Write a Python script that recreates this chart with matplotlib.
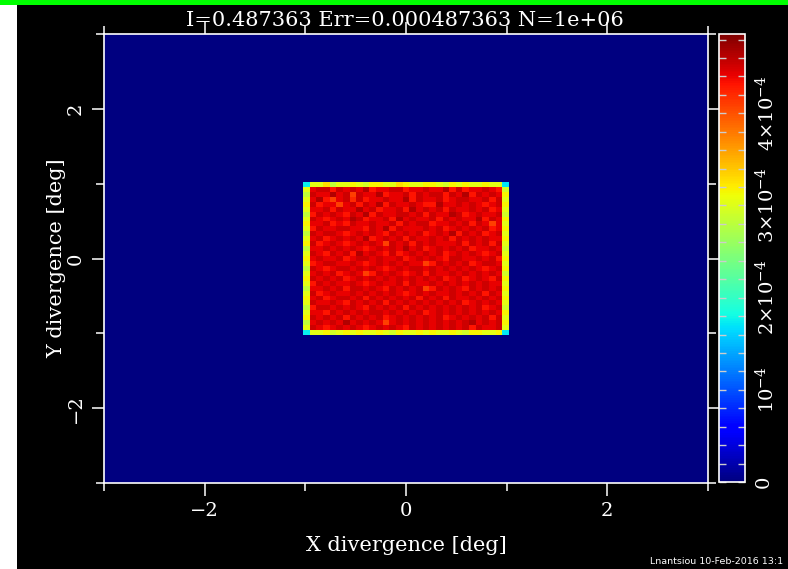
import numpy as np
import matplotlib
matplotlib.use("Agg")
import matplotlib.pyplot as plt
from matplotlib.patches import Rectangle
from matplotlib.ticker import MultipleLocator, FixedLocator

# histogram grid: 91 x 91 bins over [-3, 3] deg
n_bins = 91
x_range = (-3.0, 3.0)
y_range = (-3.0, 3.0)
first_bin = 30  # first (partial) bin of the lit rectangle
z_max = 4.86e-4

# interior cells (29 x 29), top row first, one digit per cell
interior_rows = [
    "6775767685" "6677566766" "857566765",
    "7668673766" "8566757677" "576857676",
    "6853674756" "6766857667" "567766757",
    "7566367576" "8576676558" "667676567",
    "6675766867" "5667586767" "576676756",
    "5767657685" "7667767576" "687567667",
    "7656768756" "6758676675" "767668576",
    "6675657667" "6675767756" "676757636",
    "5766776657" "6857666767" "567676756",
    "7677656767" "6576767567" "685767567",
    "6756767685" "6767576676" "757676766",
    "7567656767" "6376757676" "667576757",
    "6676767656" "7676867567" "676756676",
    "7657675867" "6575676767" "567676567",
    "6766756776" "7667567676" "577667675",
    "5677667656" "7676766357" "676756776",
    "7656776767" "6567677676" "767676567",
    "6767567635" "7676567576" "676767676",
    "7676756767" "6767676767" "567567657",
    "5767667656" "7667576676" "767676766",
    "6676757767" "6576767357" "676576767",
    "7567667676" "7676567676" "676767576",
    "6756776757" "6767675767" "576676767",
    "7667657676" "7576767676" "767567676",
    "5776767657" "6767576767" "676767567",
    "6657676767" "7676767567" "676767676",
    "7676757676" "7567676767" "567676757",
    "6767686767" "6367676767" "676786767",
    "7656767656" "7676576767" "676757667",
]
interior_base, interior_step = 3.76e-4, 0.11e-4

# partially filled edge bins (29 each), one digit per cell
edge_top = "5573556546" "6557655665" "465655655"
edge_bottom = "5564565655" "6546556565" "565466556"
edge_left = "5356535653" "5635653565" "356535635"   # top to bottom
edge_right = "4656546565" "6545656465" "656546565"  # top to bottom
edge_base, edge_step = 2.50e-4, 0.11e-4

# corner bins: top-left, top-right, bottom-left, bottom-right
corners = [1.75e-4, 1.70e-4, 1.75e-4, 1.72e-4]

x_ticks = [-2, 0, 2]
y_ticks = [-2, 0, 2]
cbar_ticks = [0, 1e-4, 2e-4, 3e-4, 4e-4]
cbar_labels = ["0", r"10$^{-4}$", r"2×10$^{-4}$", r"3×10$^{-4}$", r"4×10$^{-4}$"]
title = "I=0.487363 Err=0.000487363 N=1e+06"
stamp = "Lnantsiou 10-Feb-2016 13:1"


def digits(s, base, step):
    return np.array([base + step * int(c) for c in s])


# build the image (row 0 = bottom)
inner = np.array([digits(r, interior_base, interior_step) for r in interior_rows])[::-1]
n_in = inner.shape[0]
z = np.zeros((n_bins, n_bins))
lo, hi = first_bin, first_bin + n_in + 1
z[lo + 1:hi, lo + 1:hi] = inner
z[hi, lo + 1:hi] = digits(edge_top, edge_base, edge_step)
z[lo, lo + 1:hi] = digits(edge_bottom, edge_base, edge_step)
z[lo + 1:hi, lo] = digits(edge_left, edge_base, edge_step)[::-1]
z[lo + 1:hi, hi] = digits(edge_right, edge_base, edge_step)[::-1]
z[hi, lo], z[hi, hi], z[lo, lo], z[lo, hi] = corners

xe = np.linspace(*x_range, n_bins + 1)
ye = np.linspace(*y_range, n_bins + 1)

plt.rcParams["font.family"] = ["DejaVu Serif"]
plt.rcParams["mathtext.fontset"] = "dejavuserif"

W, H = 788, 569
fig = plt.figure(figsize=(W / 100, H / 100), dpi=100, facecolor="black")

# top green strip and left white strip
fig.patches.append(Rectangle((0, 1 - 5 / H), 1, 5 / H, transform=fig.transFigure,
                             facecolor="#00ff00", edgecolor="none"))
fig.patches.append(Rectangle((0, 0), 17 / W, 1 - 5 / H, transform=fig.transFigure,
                             facecolor="white", edgecolor="none"))

ax = fig.add_axes([104 / W, (H - 483) / H, (708 - 104) / W, (483 - 34) / H])
ax.set_facecolor("black")
mesh = ax.pcolormesh(xe, ye, z, cmap="jet", vmin=0, vmax=z_max, shading="flat")
ax.set_xlim(*x_range)
ax.set_ylim(*y_range)

for sp in ax.spines.values():
    sp.set_color("white")
    sp.set_linewidth(1.2)

ax.xaxis.set_major_locator(FixedLocator(x_ticks))
ax.yaxis.set_major_locator(FixedLocator(y_ticks))
ax.xaxis.set_minor_locator(MultipleLocator(1))
ax.yaxis.set_minor_locator(MultipleLocator(1))
ax.tick_params(which="both", direction="out", colors="white", top=True, right=True, width=1.1)
ax.tick_params(which="major", length=9)
ax.tick_params(which="minor", length=6)
ax.tick_params(axis="x", labelsize=14, pad=5)
ax.tick_params(axis="y", labelsize=14, pad=5)
for lab in ax.get_yticklabels():
    lab.set_rotation(90)
    lab.set_va("center")

ax.set_xlabel("X divergence [deg]", color="white", fontsize=15, labelpad=11)
ax.set_ylabel("Y divergence [deg]", color="white", fontsize=15, labelpad=0)

cax = fig.add_axes([719 / W, (H - 482) / H, 26 / W, (482 - 34) / H])
cb = fig.colorbar(mesh, cax=cax)
cb.outline.set_edgecolor("white")
cb.outline.set_linewidth(1.2)
cb.set_ticks(cbar_ticks)
cb.set_ticklabels(cbar_labels)
cax.yaxis.set_minor_locator(MultipleLocator(0.2e-4))
cax.tick_params(which="both", direction="in", left=True, right=True, length=5,
                color="#cccccc", width=1, labelcolor="white", labelsize=14, pad=7)
for lab in cax.get_yticklabels():
    lab.set_rotation(90)
    lab.set_va("center")

fig.text(405 / W, 1 - 21 / H, title, color="white", fontsize=15, ha="center", va="center")
fig.text(650 / W, 1 - 561 / H, stamp, color="white", fontsize=6.8, family="DejaVu Sans",
         ha="left", va="center")

fig.savefig("out.png", dpi=100, facecolor="black")
